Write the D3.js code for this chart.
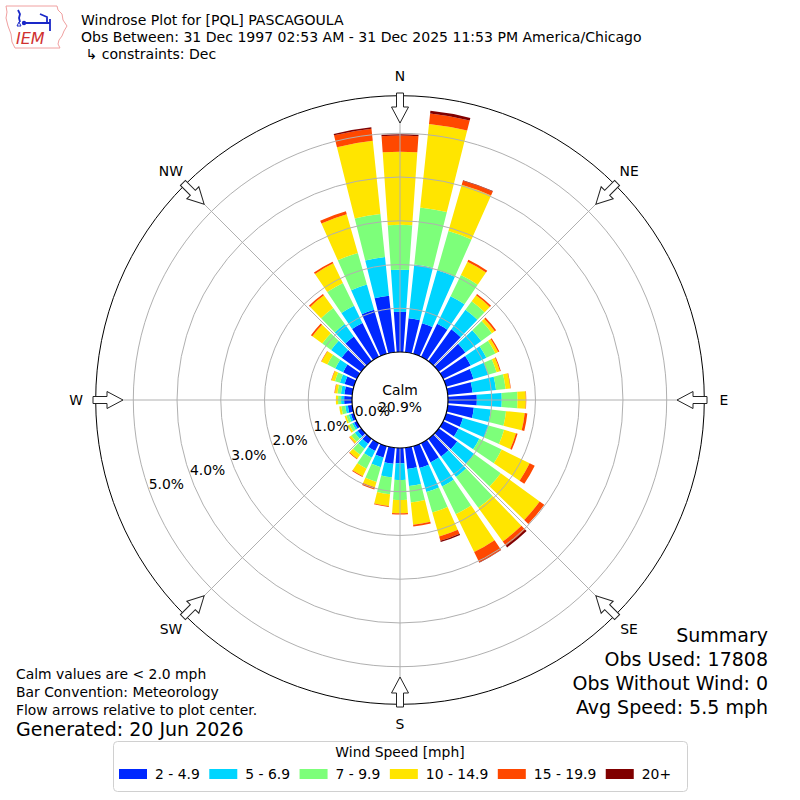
<!DOCTYPE html>
<html>
<head>
<meta charset="utf-8">
<script src="https://cdn.jsdelivr.net/npm/d3@7"></script>
<style>
body { margin: 0; background: #fff; }
text { font-family: "DejaVu Sans", sans-serif; fill: #000; }
</style>
</head>
<body>
<div id="chart-area"></div>
<script>
// wind directions (degrees, meteorological) and speed classes
var directions = d3.range(0, 360, 10);
var speedBins = ["2 - 4.9", "5 - 6.9", "7 - 9.9", "10 - 14.9", "15 - 19.9", "20+"];
var binColors = ["#0028ff", "#00d5ff", "#7dff7a", "#ffe500", "#ff4800", "#800000"];

// percent of observations per direction, one array per speed class
var spd2 = [0.92,0.78,0.73,0.84,0.90,0.75,0.70,0.65,0.57,0.66,0.60,0.40,0.39,0.52,0.50,0.49,0.52,0.49,
            0.35,0.37,0.27,0.20,0.14,0.10,0.07,0.07,0.10,0.18,0.18,0.22,0.35,0.55,0.70,0.86,1.05,1.30];
var spd5 = [0.96,1.24,1.26,0.70,0.55,0.45,0.40,0.35,0.54,0.57,0.39,0.61,0.53,0.48,0.58,0.61,0.57,0.39,
            0.38,0.31,0.23,0.17,0.14,0.08,0.05,0.05,0.06,0.07,0.08,0.11,0.20,0.30,0.35,0.44,0.60,0.89];
var spd7 = [1.03,1.31,0.93,0.54,0.24,0.30,0.23,0.20,0.22,0.36,0.35,0.37,0.57,0.75,0.87,0.71,0.49,0.38,
            0.46,0.39,0.35,0.28,0.17,0.10,0.07,0.06,0.09,0.07,0.08,0.12,0.20,0.25,0.45,0.58,0.75,0.99];
var spd10 = [1.67,1.92,1.10,0.34,0.17,0.08,0.07,0.08,0.11,0.19,0.43,0.28,0.71,1.10,0.95,0.96,0.57,0.51,
             0.30,0.27,0.13,0.19,0.11,0.05,0.05,0.04,0.05,0.05,0.06,0.08,0.15,0.28,0.36,0.50,0.92,1.68];
var spd15 = [0.37,0.24,0.10,0.05,0.04,0.04,0.03,0.02,0.01,0.01,0.06,0.04,0.13,0.13,0.12,0.26,0.10,0.04,
             0.03,0.02,0.05,0.02,0.02,0.01,0.00,0.00,0.00,0.00,0.01,0.01,0.01,0.04,0.04,0.04,0.07,0.28];
var spd20 = [0.03,0.06,0.01,0.00,0.00,0.00,0.00,0.00,0.00,0.00,0.00,0.00,0.00,0.00,0.05,0.01,0.03,0.00,
             0.00,0.00,0.00,0.00,0.00,0.00,0.00,0.00,0.00,0.00,0.00,0.00,0.00,0.00,0.00,0.00,0.00,0.03];

var ringTicks = [0, 1, 2, 3, 4, 5];
var compassLabels = ["N", "NE", "E", "SE", "S", "SW", "W", "NW"];
var calmText = "20.9%";

var titleLines = ["Windrose Plot for [PQL] PASCAGOULA",
                  "Obs Between: 31 Dec 1997 02:53 AM - 31 Dec 2025 11:53 PM America/Chicago",
                  " \u21b3 constraints: Dec"];
var summaryLines = ["Summary", "Obs Used: 17808", "Obs Without Wind: 0", "Avg Speed: 5.5 mph"];
var noteLines = ["Calm values are < 2.0 mph", "Bar Convention: Meteorology",
                 "Flow arrows relative to plot center."];
var generatedText = "Generated: 20 Jun 2026";

var width = 800, height = 800;
var cx = 400, cy = 400;
var rMax = 5.86;

var svg = d3.select("#chart-area").append("svg")
    .attr("width", width)
    .attr("height", height);

var keys = ["s2", "s5", "s7", "s10", "s15", "s20"];
var table = directions.map(function(d, i) {
    return {dir: d, s2: spd2[i], s5: spd5[i], s7: spd7[i], s10: spd10[i], s15: spd15[i], s20: spd20[i]};
});
var layers = d3.stack().keys(keys)(table);

var r = d3.scaleLinear().domain([0, 5]).range([48, 266.7]);
var rad = function(deg) { return deg * Math.PI / 180; };

var g = svg.append("g").attr("transform", "translate(" + cx + "," + cy + ")");

// bars
var arc = d3.arc();
g.selectAll("g.layer").data(layers).enter()
    .append("g")
        .attr("class", "layer")
        .attr("fill", function(d, i) { return binColors[i]; })
    .selectAll("path").data(function(d) { return d; }).enter()
    .append("path")
        .attr("d", function(d) {
            return arc({innerRadius: r(d[0]), outerRadius: r(d[1]),
                        startAngle: rad(d.data.dir - 4), endAngle: rad(d.data.dir + 4)});
        });

// grid
g.selectAll("circle.ring").data(ringTicks.slice(1)).enter()
    .append("circle")
        .attr("class", "ring")
        .attr("r", function(d) { return r(d); })
        .attr("fill", "none")
        .attr("stroke", "#b0b0b0")
        .attr("stroke-width", 1);

g.selectAll("line.spoke").data(d3.range(0, 360, 45)).enter()
    .append("line")
        .attr("x1", function(d) { return r(0) * Math.sin(rad(d)); })
        .attr("y1", function(d) { return -r(0) * Math.cos(rad(d)); })
        .attr("x2", function(d) { return r(rMax) * Math.sin(rad(d)); })
        .attr("y2", function(d) { return -r(rMax) * Math.cos(rad(d)); })
        .attr("stroke", "#b0b0b0")
        .attr("stroke-width", 1);

g.append("circle")
    .attr("r", r(rMax))
    .attr("fill", "none")
    .attr("stroke", "#000")
    .attr("stroke-width", 1);

// calm circle
g.append("circle")
    .attr("r", r(0))
    .attr("fill", "#fff")
    .attr("stroke", "#000")
    .attr("stroke-width", 1.2);

// ring labels
var labelAngle = rad(250.4);
g.selectAll("text.rlabel").data(ringTicks).enter()
    .append("text")
        .attr("x", function(d) { return r(d) * Math.sin(labelAngle); })
        .attr("y", function(d) { return -r(d) * Math.cos(labelAngle); })
        .attr("font-size", "13.9px")
        .text(function(d) { return d.toFixed(1) + "%"; });

g.append("text").attr("x", 0).attr("y", -5).attr("text-anchor", "middle")
    .attr("font-size", "13.9px").text("Calm");
g.append("text").attr("x", 0).attr("y", 12).attr("text-anchor", "middle")
    .attr("font-size", "13.9px").text(calmText);

// flow arrows
var arrowPts = [[-3.5,-307],[3.5,-307],[3.5,-293],[8.5,-293],[0,-277],[-8.5,-293],[-3.5,-293]];
g.selectAll("polygon.arrow").data(d3.range(0, 360, 45)).enter()
    .append("polygon")
        .attr("points", arrowPts.map(function(p) { return p.join(","); }).join(" "))
        .attr("transform", function(d) { return "rotate(" + d + ")"; })
        .attr("fill", "#fff")
        .attr("stroke", "#222")
        .attr("stroke-width", 1);

// compass labels
g.selectAll("text.compass").data(compassLabels).enter()
    .append("text")
        .attr("x", function(d, i) { return 324 * Math.sin(rad(i * 45)); })
        .attr("y", function(d, i) { return -324 * Math.cos(rad(i * 45)) + 5; })
        .attr("text-anchor", "middle")
        .attr("font-size", "13.9px")
        .text(function(d) { return d; });

// title
svg.selectAll("text.title").data(titleLines).enter()
    .append("text")
        .attr("x", 81)
        .attr("y", function(d, i) { return 25 + i * 17; })
        .attr("font-size", "14.05px")
        .attr("xml:space", "preserve")
        .text(function(d) { return d; });

// logo
var logo = svg.append("g");
logo.append("path")
    .attr("d", "M6,6 L57,6 L58,10 L62,14 L63,20 L67,26 L64,31 L62,36 L59,40 L58,44 L60,48 L15,48 L12,42 L11,34 L8,26 L6,18 L7,12 Z")
    .attr("fill", "#fff")
    .attr("stroke", "#f0a0a0")
    .attr("stroke-width", 1);
logo.append("path")
    .attr("d", "M18,10 L20,14 L19,18 L20,22 M24,23 L50,23 M40,14 L47,17 L47,22 M50,19 L50,31")
    .attr("fill", "none")
    .attr("stroke", "#1a28c8")
    .attr("stroke-width", 1.8);
logo.append("circle").attr("cx", 24).attr("cy", 23).attr("r", 2.2).attr("fill", "#1a28c8");
logo.append("path").attr("d", "M17,26 L21,26 L19,22 Z").attr("fill", "none")
    .attr("stroke", "#1a28c8").attr("stroke-width", 1);
logo.append("text")
    .attr("x", 16).attr("y", 44)
    .attr("font-family", "Liberation Serif, serif")
    .attr("font-style", "italic")
    .attr("font-size", "16px")
    .style("fill", "#d03030")
    .text("IEM");

// summary
svg.selectAll("text.summary").data(summaryLines).enter()
    .append("text")
        .attr("x", 768)
        .attr("y", function(d, i) { return 642 + i * 24; })
        .attr("text-anchor", "end")
        .attr("font-size", "19px")
        .text(function(d) { return d; });

// notes
svg.selectAll("text.note").data(noteLines).enter()
    .append("text")
        .attr("x", 16)
        .attr("y", function(d, i) { return 679 + i * 18; })
        .attr("font-size", "13.9px")
        .text(function(d) { return d; });
svg.append("text").attr("x", 16).attr("y", 736).attr("font-size", "19px").text(generatedText);

// legend
var legend = svg.append("g");
legend.append("rect")
    .attr("x", 113.5).attr("y", 741.5)
    .attr("width", 574).attr("height", 50)
    .attr("rx", 4)
    .attr("fill", "#fff")
    .attr("stroke", "#d0d0d0");
legend.append("text")
    .attr("x", 400).attr("y", 757)
    .attr("text-anchor", "middle")
    .attr("font-size", "13.9px")
    .text("Wind Speed [mph]");
var lx = 119;
speedBins.forEach(function(label, i) {
    legend.append("rect")
        .attr("x", lx).attr("y", 769)
        .attr("width", 28).attr("height", 10)
        .attr("fill", binColors[i]);
    var t = legend.append("text")
        .attr("x", lx + 36).attr("y", 779)
        .attr("font-size", "13.9px")
        .text(label);
    lx += 36 + t.node().getComputedTextLength() + 9.5;
});
</script>
</body>
</html>
